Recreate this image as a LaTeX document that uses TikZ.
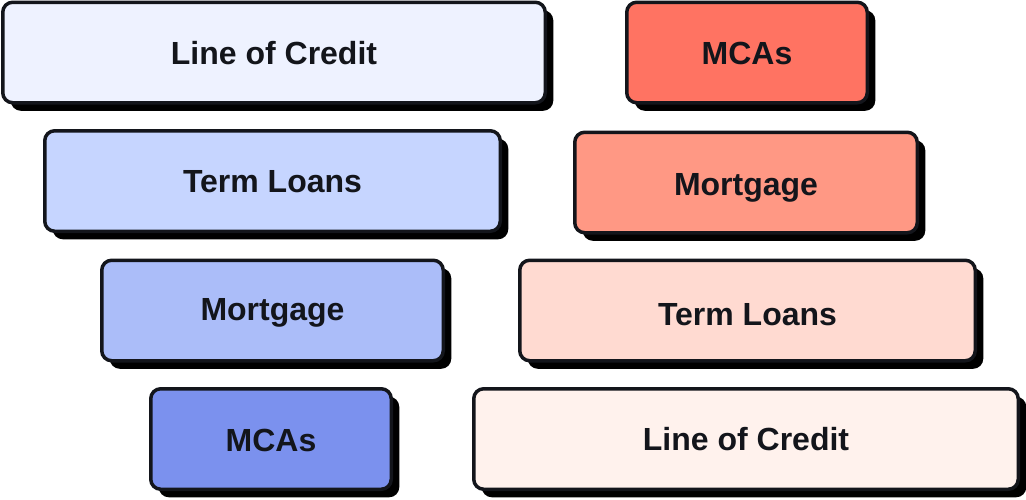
\documentclass[tikz,border=0pt]{standalone}
\usepackage{fontspec}
\setmainfont{Liberation Sans}
\usetikzlibrary{shadows}
\definecolor{ink}{HTML}{13151B}
\definecolor{cA}{HTML}{EEF2FF}
\definecolor{cB}{HTML}{C6D5FF}
\definecolor{cC}{HTML}{ABBDF9}
\definecolor{cD}{HTML}{7B91EE}
\definecolor{rA}{HTML}{FF7362}
\definecolor{rB}{HTML}{FF9884}
\definecolor{rC}{HTML}{FFDAD1}
\definecolor{rD}{HTML}{FFF2ED}
\tikzset{
  bar/.style={draw=ink, line width=3.5pt, rounded corners=10pt,
    minimum height=100.5pt, inner sep=0pt, text=ink,
    text height=23pt, text depth=0pt,
    font=\fontsize{32}{38}\selectfont\bfseries,
    drop shadow={shadow xshift=8pt, shadow yshift=-8pt, fill=black, opacity=1}},
}
\begin{document}
\begin{tikzpicture}[x=1pt,y=1pt]
\useasboundingbox (0,0) rectangle (1026,-499);
% left column
\node[bar, fill=cA, minimum width=542.5pt] (l1) at (274,-52.5) {Line of Credit};
\node[bar, fill=cB, minimum width=455.5pt] (l2) at (272.5,-181) {Term Loans};
\node[bar, fill=cC, minimum width=341.5pt] (l3) at (272.5,-310.5) {\raisebox{1.8pt}{Mortgage}};
\node[bar, fill=cD, minimum width=240.5pt] (l4) at (271,-439) {\raisebox{-1pt}{MCAs}};
% right column
\node[bar, fill=rA, minimum width=240.5pt] (r1) at (747,-52.5) {MCAs};
\node[bar, fill=rB, minimum width=342.5pt] (r2) at (746,-182.5) {\raisebox{-1.5pt}{Mortgage}};
\node[bar, fill=rC, minimum width=455.5pt] (r3) at (747.5,-310.5) {\raisebox{-3pt}{Term Loans}};
\node[bar, fill=rD, minimum width=544.5pt] (r4) at (746,-439) {Line of Credit};
\end{tikzpicture}
\end{document}
